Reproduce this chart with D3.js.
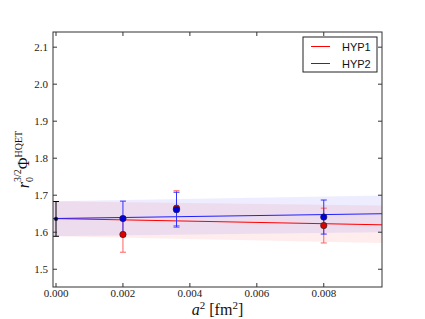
<!DOCTYPE html>
<html>
<head>
<meta charset="utf-8">
<script src="https://cdn.jsdelivr.net/npm/d3@7"></script>
<style>
  body { margin: 0; background: #fff; }
  svg { display: block; }
</style>
</head>
<body>
<script>
const width = 425;
const height = 319;
const margin = { top: 32, right: 43, bottom: 32, left: 53 };

// data
const a2 = [0.002, 0.0036, 0.008];
const hyp1 = [1.594, 1.665, 1.618];
const hyp1Err = [0.048, 0.047, 0.047];
const hyp2 = [1.637, 1.661, 1.641];
const hyp2Err = [0.047, 0.047, 0.046];
const contX = [0];
const contY = [1.636];
const contErr = [0.047];
// fit lines: value and band at the two ends of the axis
const fitX = [-0.00009, 0.00974];
const fit1 = [1.637, 1.620];
const fit1Lo = [1.589, 1.571];
const fit1Hi = [1.684, 1.672];
const fit2 = [1.637, 1.650];
const fit2Lo = [1.589, 1.600];
const fit2Hi = [1.684, 1.699];
const xTicks = [0, 0.002, 0.004, 0.006, 0.008];
const yTicks = [1.5, 1.6, 1.7, 1.8, 1.9, 2.0, 2.1];
const legendNames = ["HYP1", "HYP2"];
const colors = ["#ff0000", "#2020ff"];
const errColors = ["#ff6060", "#3030ff"];

const svg = d3.select("body").append("svg").attr("width", width).attr("height", height);

const x = d3.scaleLinear().domain(fitX).range([margin.left, width - margin.right]);
const y = d3.scaleLinear().domain([1.452, 2.141]).range([height - margin.bottom, margin.top]);

const serif = "'Liberation Serif', 'DejaVu Serif', serif";
const sans = "'Liberation Sans', 'DejaVu Sans', sans-serif";

const plot = svg.append("g");

// bands
const bands = [
  { lo: fit1Lo, hi: fit1Hi, color: "rgba(255,0,0,0.07)" },
  { lo: fit2Lo, hi: fit2Hi, color: "rgba(0,0,255,0.07)" },
];
bands.forEach((b) => {
  const pts = fitX.map((v, i) => ({ x: v, lo: b.lo[i], hi: b.hi[i] }));
  plot.append("path")
    .datum(pts)
    .attr("d", d3.area().x((d) => x(d.x)).y0((d) => y(d.lo)).y1((d) => y(d.hi)))
    .attr("fill", b.color);
});

// fit lines
[fit1, fit2].forEach((f, k) => {
  plot.append("path")
    .datum(fitX.map((v, i) => [v, f[i]]))
    .attr("d", d3.line().x((d) => x(d[0])).y((d) => y(d[1])))
    .attr("stroke", colors[k])
    .attr("stroke-width", 1)
    .attr("fill", "none");
});

function errorBars(xs, ys, es, color, lw) {
  const g = plot.append("g").attr("stroke", color).attr("stroke-width", lw);
  xs.forEach((v, i) => {
    const cx = x(v);
    g.append("line").attr("x1", cx).attr("x2", cx).attr("y1", y(ys[i] - es[i])).attr("y2", y(ys[i] + es[i]));
    [ys[i] - es[i], ys[i] + es[i]].forEach((e) => {
      g.append("line").attr("x1", cx - 3).attr("x2", cx + 3).attr("y1", y(e)).attr("y2", y(e));
    });
  });
}

function points(xs, ys, color, r) {
  plot.append("g").selectAll("circle")
    .data(xs.map((v, i) => [v, ys[i]]))
    .join("circle")
    .attr("cx", (d) => x(d[0]))
    .attr("cy", (d) => y(d[1]))
    .attr("r", r)
    .attr("fill", color)
    .attr("stroke", "#222")
    .attr("stroke-width", 0.6);
}

errorBars(a2, hyp1, hyp1Err, errColors[0], 1);
errorBars(a2, hyp2, hyp2Err, errColors[1], 1);
errorBars(contX, contY, contErr, "#000", 1);
points(a2, hyp1, "#dd0000", 3.2);
points(a2, hyp2, "#0000dd", 3.2);
points(contX, contY, "#000033", 1.8);

// frame and ticks (inward, all four sides)
const x0 = margin.left, x1 = width - margin.right;
const y0 = height - margin.bottom, y1 = margin.top;
const axes = svg.append("g").attr("stroke", "#333").attr("stroke-width", 1);
axes.append("rect").attr("x", x0).attr("y", y1).attr("width", x1 - x0).attr("height", y0 - y1).attr("fill", "none");
xTicks.forEach((t) => {
  axes.append("line").attr("x1", x(t)).attr("x2", x(t)).attr("y1", y0).attr("y2", y0 - 4);
  axes.append("line").attr("x1", x(t)).attr("x2", x(t)).attr("y1", y1).attr("y2", y1 + 4);
});
yTicks.forEach((t) => {
  axes.append("line").attr("x1", x0).attr("x2", x0 + 4).attr("y1", y(t)).attr("y2", y(t));
  axes.append("line").attr("x1", x1).attr("x2", x1 - 4).attr("y1", y(t)).attr("y2", y(t));
});

svg.append("g").selectAll("text")
  .data(xTicks)
  .join("text")
  .attr("x", (d) => x(d))
  .attr("y", y0 + 10)
  .attr("text-anchor", "middle")
  .attr("font-family", serif)
  .attr("font-size", 11)
  .attr("fill", "#222")
  .text((d) => d3.format(".3f")(d));

svg.append("g").selectAll("text")
  .data(yTicks)
  .join("text")
  .attr("x", x0 - 5)
  .attr("y", (d) => y(d) + 4)
  .attr("text-anchor", "end")
  .attr("font-family", serif)
  .attr("font-size", 11)
  .attr("fill", "#222")
  .text((d) => d3.format(".1f")(d));

// x label
const xl = svg.append("text")
  .attr("x", (x0 + x1) / 2)
  .attr("y", 315)
  .attr("text-anchor", "middle")
  .attr("font-family", serif)
  .attr("font-size", 16)
  .attr("fill", "#111");
xl.append("tspan").attr("font-style", "italic").text("a");
xl.append("tspan").attr("font-size", 11).attr("dy", -6).text("2");
xl.append("tspan").attr("dy", 6).text(" [fm");
xl.append("tspan").attr("font-size", 11).attr("dy", -6).text("2");
xl.append("tspan").attr("dy", 6).text("]");

// y label
const yl = svg.append("text")
  .attr("transform", `translate(29,${(y0 + y1) / 2}) rotate(-90)`)
  .attr("text-anchor", "middle")
  .attr("font-family", serif)
  .attr("font-size", 16)
  .attr("fill", "#111");
yl.append("tspan").attr("font-style", "italic").text("r");
yl.append("tspan").attr("font-size", 10).attr("dy", 4).text("0");
yl.append("tspan").attr("font-size", 10).attr("dy", -12).attr("dx", -5).text("3/2");
yl.append("tspan").attr("dy", 8).text("Φ");
yl.append("tspan").attr("font-size", 10).attr("dy", -7).text("HQET");

// legend
const lg = svg.append("g").attr("transform", "translate(303,37)");
lg.append("rect").attr("width", 74).attr("height", 35).attr("fill", "#fff").attr("stroke", "#222").attr("stroke-width", 1);
legendNames.forEach((n, i) => {
  const yy = 9.5 + i * 17;
  lg.append("line").attr("x1", 8).attr("x2", 27).attr("y1", yy).attr("y2", yy).attr("stroke", colors[i]).attr("stroke-width", 1);
  lg.append("text").attr("x", 39).attr("y", yy + 4).attr("font-family", sans).attr("font-size", 11).attr("fill", "#111").text(n);
});
</script>
</body>
</html>
